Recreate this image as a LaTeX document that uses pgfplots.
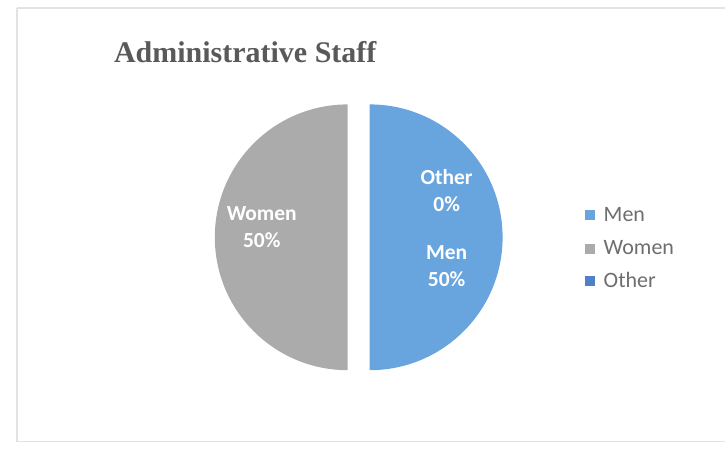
\documentclass[border=0pt]{standalone}
\usepackage{pgfplots}
\usepackage{pgfplotstable}
\pgfplotsset{compat=1.18}
\usepackage{fontspec}
\setmainfont{Carlito}
\newfontfamily\titlefont{Liberation Serif}
\definecolor{menblue}{HTML}{68A4DE}
\definecolor{womengray}{HTML}{ABABAB}
\definecolor{otherblue}{HTML}{4F80C8}
\definecolor{titlegray}{HTML}{595959}
\definecolor{leggray}{HTML}{6E6E6E}
\pgfplotstableread{
label value
Men 50
Women 50
Other 0
}\piedata
\begin{document}
\begin{tikzpicture}
\pgfplotstablegetelem{0}{value}\of\piedata \global\let\vMen\pgfplotsretval
\pgfplotstablegetelem{1}{value}\of\piedata \global\let\vWomen\pgfplotsretval
\pgfplotstablegetelem{2}{value}\of\piedata \global\let\vOther\pgfplotsretval
\pgfmathsetmacro\total{\vMen+\vWomen+\vOther}
\pgfmathsetmacro\fMen{\vMen/\total}
\pgfmathsetmacro\fWomen{\vWomen/\total}
\pgfmathsetmacro\sMen{90}
\pgfmathsetmacro\eMen{90-360*\fMen}
\pgfmathsetmacro\mMen{(\sMen+\eMen)/2}
\pgfmathsetmacro\sWomen{\eMen}
\pgfmathsetmacro\eWomen{\sWomen-360*\fWomen}
\pgfmathsetmacro\mWomen{(\sWomen+\eWomen)/2}
\begin{axis}[
  scale only axis, width=726bp, height=461bp,
  xmin=0, xmax=726, ymin=0, ymax=461, y dir=reverse,
  hide axis, clip=false,
]
\fill[white] (axis cs:0,0) rectangle (axis cs:726,461);
\draw[gray!22, line width=1.2bp] (axis cs:17,8) -- (axis cs:726,8);
\draw[gray!22, line width=1.2bp] (axis cs:17,8) -- (axis cs:17,442) -- (axis cs:726,442);
% pie slices
\fill[menblue] ([shift={(\mMen:11bp)}]axis cs:359,237.5) -- ++(\sMen:133bp)
  arc[start angle=\sMen, end angle=\eMen, radius=133bp] -- cycle;
\fill[womengray] ([shift={(\mWomen:11bp)}]axis cs:359,237.5) -- ++(\sWomen:133bp)
  arc[start angle=\sWomen, end angle=\eWomen, radius=133bp] -- cycle;
% slice labels
\node[white, font=\fontsize{21.5bp}{27bp}\selectfont\bfseries, align=center] at (axis cs:262,227) {Women\\50\%};
\node[white, font=\fontsize{21.5bp}{27bp}\selectfont\bfseries, align=center] at (axis cs:447,191) {Other\\0\%};
\node[white, font=\fontsize{21.5bp}{27bp}\selectfont\bfseries, align=center] at (axis cs:447,266) {Men\\50\%};
% title
\node[titlegray, anchor=base west, inner sep=0pt, font=\titlefont\fontsize{30bp}{34bp}\selectfont\bfseries] at (axis cs:114,63) {Administrative Staff};
% legend
\fill[menblue] (axis cs:585,210) rectangle (axis cs:595,220);
\fill[womengray] (axis cs:585,244) rectangle (axis cs:595,254);
\fill[otherblue] (axis cs:585,276) rectangle (axis cs:595,286);
\node[leggray, anchor=base west, inner sep=0pt, font=\fontsize{22bp}{25bp}\selectfont] at (axis cs:604,222) {Men};
\node[leggray, anchor=base west, inner sep=0pt, font=\fontsize{22bp}{25bp}\selectfont] at (axis cs:604,255) {Women};
\node[leggray, anchor=base west, inner sep=0pt, font=\fontsize{22bp}{25bp}\selectfont] at (axis cs:604,288) {Other};
\end{axis}
\end{tikzpicture}
\end{document}
